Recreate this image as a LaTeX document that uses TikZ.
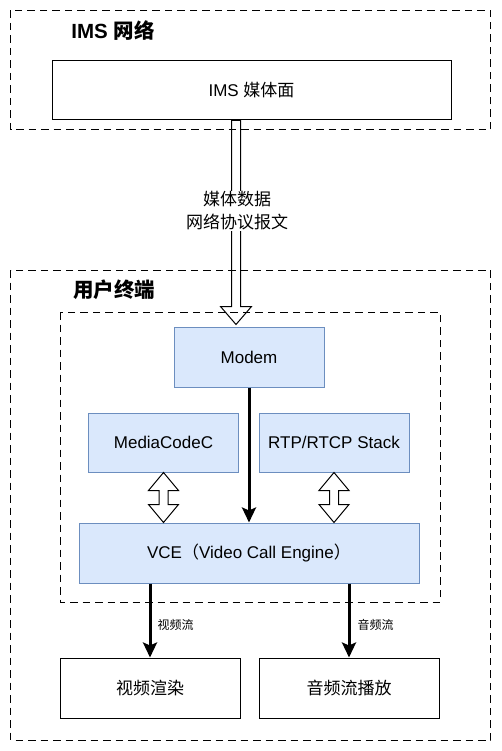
\documentclass[tikz,border=0pt]{standalone}
\usepackage{fontspec}
\setmainfont{Liberation Sans}
\newfontfamily\cjk{Noto Sans CJK SC}
\newcommand\zh[1]{{\cjk #1}}
\usetikzlibrary{calc,arrows.meta}
\definecolor{bluefill}{HTML}{DAE8FC}
\definecolor{blueline}{HTML}{6C8EBF}
\tikzset{
  whitebox/.style={draw=black, line width=1pt, fill=white, inner sep=0pt, font=\fontsize{17}{20}\selectfont},
  bluebox/.style={draw=blueline, line width=1pt, fill=bluefill, inner sep=0pt, font=\fontsize{17}{20}\selectfont},
  groupbox/.style={draw=black, line width=1pt, dash pattern=on 7.5pt off 5pt},
  titletext/.style={font=\fontsize{20.5}{24}\selectfont\bfseries, inner sep=0pt},
  flexstyle/.style={draw=black, line width=1pt, fill=white, line join=miter},
  thickarrow/.style={line width=3pt, -{Stealth[length=15pt,width=14pt,inset=3pt]}},
  smalllabel/.style={font=\fontsize{12}{14}\selectfont, inner sep=0pt},
}
\newcommand\dblarrow[2]{%
  \draw[flexstyle] let \p1=(#1), \p2=(#2) in
    (\x1,\y1) -- (\x1+15pt,\y1-18pt) -- (\x1+4.5pt,\y1-18pt) -- (\x1+4.5pt,\y2+18pt)
    -- (\x1+15pt,\y2+18pt) -- (\x2,\y2) -- (\x1-15pt,\y2+18pt) -- (\x1-4.5pt,\y2+18pt)
    -- (\x1-4.5pt,\y1-18pt) -- (\x1-15pt,\y1-18pt) -- cycle;}
\begin{document}
\begin{tikzpicture}[x=1pt,y=-1pt]
\useasboundingbox (0,0) rectangle (501,751);
\fill[white] (0,0) rectangle (501,751);

% boxes
\node[whitebox, minimum width=399pt, minimum height=59pt] (ims) at (251.5,90.5) {IMS \zh{媒体面}};
\node[bluebox, minimum width=150pt, minimum height=60pt] (modem) at (249,357) {Modem};
\node[bluebox, minimum width=150pt, minimum height=59pt] (codec) at (163.5,442.5) {MediaCodeC};
\node[bluebox, minimum width=150pt, minimum height=59pt] (rtp) at (334,442.5) {RTP/RTCP Stack};
\node[bluebox, minimum width=340pt, minimum height=60pt] (vce) at (249,553) {VCE\zh{（}Video Call Engine\zh{）}};
\node[whitebox, minimum width=180pt, minimum height=60pt] (video) at (150,688) {\zh{视频渲染}};
\node[whitebox, minimum width=180pt, minimum height=60pt] (audio) at (349,688) {\zh{音频流播放}};

% hollow arrow from IMS to Modem
\coordinate (fa) at ($(ims.south)+(-15.5,0)$);
\coordinate (fb) at ($(fa |- modem.north)+(0,-2)$);
\draw[flexstyle] let \p1=(fa), \p2=(fb) in
  (\x1-4.5pt,\y1) -- (\x1-4.5pt,\y2+18pt) -- (\x1-15.5pt,\y2+18pt) -- (\x2,\y2)
  -- (\x1+15.5pt,\y2+18pt) -- (\x1+4.5pt,\y2+18pt) -- (\x1+4.5pt,\y1) -- cycle;

% double hollow arrows
\dblarrow{codec.south}{codec.south |- vce.north}
\dblarrow{rtp.south}{rtp.south |- vce.north}

% dashed group boxes
\draw[groupbox] (10.5,10.5) rectangle (490.5,130);
\draw[groupbox] (10.5,270) rectangle (490.5,740);
\draw[groupbox] (60,312) rectangle (440,602);

% titles
\node[titletext] (t1) at (113,31) {IMS \zh{网络}};
\node[titletext] (t2) at (114,290) {\zh{用户终端}};

% label on hollow arrow
\node[fill=white, inner sep=1pt, align=center, font=\fontsize{17}{23}\selectfont\cjk] (flab) at (237,211) {媒体数据\\网络协议报文};

% thick arrows
\draw[thickarrow] (modem.south) -- (modem.south |- vce.north);
\draw[thickarrow] (vce.south -| video.north) -- (video.north);
\draw[thickarrow] (vce.south -| audio.north) -- (audio.north);
\node[smalllabel] (l1) at (175.5,625) {\zh{视频流}};
\node[smalllabel] (l2) at (375.5,625) {\zh{音频流}};
\end{tikzpicture}
\end{document}
